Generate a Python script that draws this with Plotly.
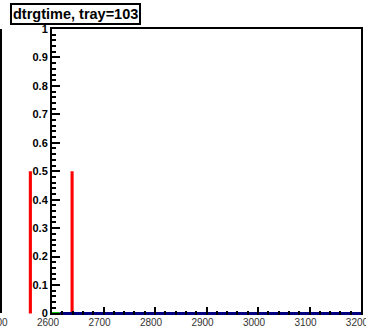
import plotly.graph_objects as go

# histogram contents
green_x = [2600, 2615]
green_y = [0, 0]
navy_x = [2615, 3200]
navy_y = [0, 0]
red_x = [2639]
red_y = [0.5]
# bar of the neighbouring pad, which sticks into the left margin
left_red_x = [2558]
left_red_y = [0.5]

x_ticks = list(range(2600, 3201, 100))
y_ticks = [round(0.1 * i, 1) for i in range(11)]
title_text = "dtrgtime, tray=103"

W, H = 366, 329
FONT = "Liberation Sans, Arial, sans-serif"

# pixel geometry of the frame
left, right, top, bottom = 52, 361, 29, 315
px_per_unit = (right - left) / 600.0
zero_px = 313.5


def fx(px):
    return px / W


def fy(px):
    return 1 - px / H


y_min = -(bottom - zero_px) / (zero_px - top)

fig = go.Figure()

fig.add_trace(go.Scatter(x=green_x, y=green_y, mode="lines",
                         line=dict(color="#00c800", width=3), hoverinfo="skip"))
fig.add_trace(go.Scatter(x=navy_x, y=navy_y, mode="lines",
                         line=dict(color="#000080", width=3), hoverinfo="skip"))
fig.add_trace(go.Bar(x=red_x, y=red_y, width=6, marker=dict(color="#ff0000", line_width=0)))
fig.add_trace(go.Bar(x=left_red_x, y=left_red_y, width=6, xaxis="x2",
                     marker=dict(color="#ff0000", line_width=0)))
# empty trace so the top frame axis gets drawn
fig.add_trace(go.Scatter(x=[2600], y=[None], xaxis="x3", hoverinfo="skip"))

xtick_font = dict(family=FONT, size=10, color="#333333")

fig.update_layout(
    width=W, height=H,
    margin=dict(l=0, r=0, t=0, b=0),
    paper_bgcolor="white", plot_bgcolor="white",
    showlegend=False,
    template="none",
    xaxis=dict(
        domain=[fx(left), fx(right)], range=[2600, 3200.01], anchor="y",
        tickvals=x_ticks, ticks="inside", ticklen=8, tickwidth=2, tickcolor="black",
        minor=dict(dtick=20, tick0=2600, ticks="inside", ticklen=4, tickwidth=2, tickcolor="black",
                   showgrid=False),
        showline=False, showgrid=False, zeroline=False,
        tickfont=xtick_font, ticklabelshift=-4, ticklabelstandoff=0,
        ticklabeloverflow="allow", automargin=False,
    ),
    xaxis3=dict(
        domain=[fx(left), fx(right)], range=[2600, 3200], overlaying="x", anchor="y",
        side="top", showline=True, linecolor="black", linewidth=2,
        ticks="", showticklabels=False, showgrid=False, zeroline=False, automargin=False,
    ),
    xaxis2=dict(
        domain=[0, fx(left)], range=[2600 - left / px_per_unit, 2600], anchor="y",
        tickvals=[2500], ticks="", showline=False, showgrid=False, zeroline=False,
        tickfont=xtick_font, ticklabelshift=-4, ticklabelstandoff=0,
        ticklabeloverflow="allow", automargin=False,
    ),
    yaxis=dict(
        domain=[fy(bottom), fy(top)], range=[y_min, 1], anchor="x",
        tickvals=y_ticks, ticks="inside", ticklen=8, tickwidth=2, tickcolor="black",
        minor=dict(dtick=0.02, tick0=0, ticks="inside", ticklen=4, tickwidth=2, tickcolor="black",
                   showgrid=False),
        showline=True, linecolor="black", linewidth=2, mirror=True,
        showgrid=False, zeroline=False,
        tickfont=dict(family=FONT, size=11, color="black", weight="bold"),
        automargin=False,
    ),
    shapes=[
        dict(type="line", xref="paper", yref="paper", x0=fx(1), x1=fx(1),
             y0=fy(313), y1=fy(top), line=dict(color="black", width=2)),
    ],
    annotations=[
        dict(text=title_text, xref="paper", yref="paper", x=fx(10), y=fy(3),
             xanchor="left", yanchor="top", showarrow=False,
             font=dict(family=FONT, size=14.5, color="black", weight="bold"),
             bgcolor="white", bordercolor="black", borderwidth=2, borderpad=1),
    ],
)

# drop the default 8px body margin so the figure sits at the window corner
fig.write_html("out.html", config={"displayModeBar": False},
               post_script="document.body.style.margin='0';")
